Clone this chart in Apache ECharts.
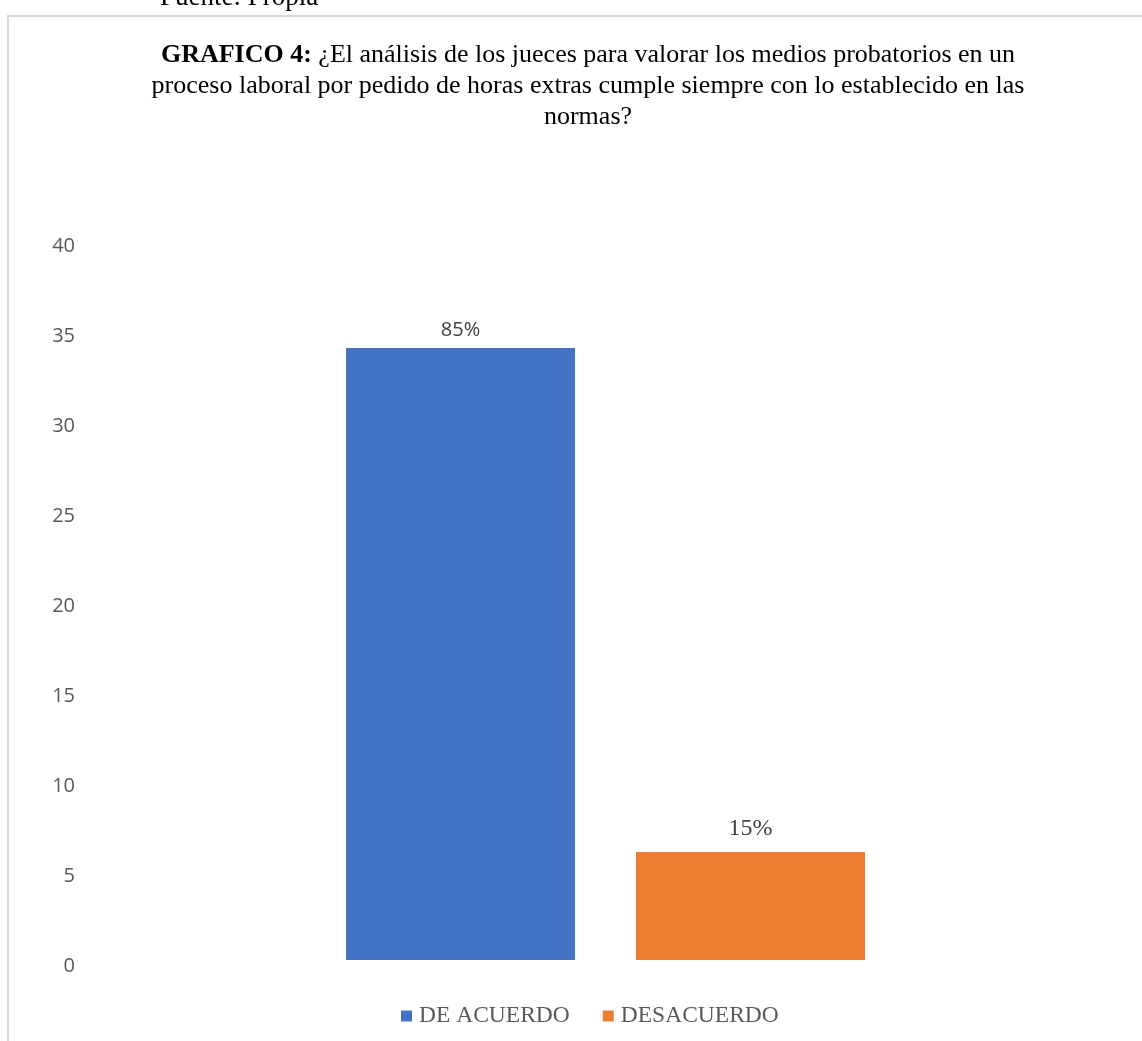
<!DOCTYPE html>
<html>
<head>
<meta charset="utf-8">
<script src="https://cdn.jsdelivr.net/npm/echarts@6/dist/echarts.min.js"></script>
<style>
  html, body { margin: 0; padding: 0; background: #fff; }
  #chart { width: 1142px; height: 1041px; }
</style>
</head>
<body>
<div id="chart"></div>
<script>
// Survey answers (respondents) for GRAFICO 4
const categories = ['Respuesta'];
const seriesNames = ['DE ACUERDO', 'DESACUERDO'];
const acuerdo = [34];
const desacuerdo = [6];
const yTicks = [0, 5, 10, 15, 20, 25, 30, 35, 40];
const total = acuerdo[0] + desacuerdo[0];

const serif = '"Liberation Serif", "Times New Roman", serif';
const sans = '"Open Sans", "Noto Sans", sans-serif';

const pct = p => Math.round(p.value / total * 100) + '%';

const chart = echarts.init(document.getElementById('chart'));
chart.setOption({
  animation: false,
  backgroundColor: '#ffffff',
  graphic: [
    {
      type: 'rect', silent: true,
      shape: { x: 8, y: 16, width: 1200, height: 1100 },
      style: { fill: 'none', stroke: '#d9d9d9', lineWidth: 2 }
    },
    {
      type: 'text', silent: true, x: 160, y: -2,
      style: { text: 'Fuente: Propia', font: '27px ' + serif, fill: '#000', verticalAlign: 'middle' }
    }
  ],
  title: {
    left: 583, top: 35, textAlign: 'center',
    text: '{b|GRAFICO 4:} ¿El análisis de los jueces para valorar los medios probatorios en un\nproceso laboral por pedido de horas extras cumple siempre con lo establecido en las\nnormas?',
    textStyle: {
      fontFamily: serif, fontSize: 26, fontWeight: 'normal', color: '#000', lineHeight: 31,
      rich: {
        b: { fontFamily: serif, fontSize: 26, fontWeight: 'bold', color: '#000', lineHeight: 31 }
      }
    }
  },
  legend: {
    bottom: 8, left: 396, itemWidth: 11, itemHeight: 11, itemGap: 33,
    icon: 'rect',
    data: seriesNames,
    textStyle: { fontFamily: serif, fontSize: 23.5, color: '#595959', padding: [0, 0, 0, 2] }
  },
  grid: { left: 100, right: 31, top: 240, bottom: 81 },
  xAxis: {
    type: 'category', data: categories,
    axisLine: { show: false }, axisTick: { show: false }, axisLabel: { show: false }
  },
  yAxis: {
    type: 'value', min: yTicks[0], max: yTicks[yTicks.length - 1], interval: 5,
    axisLine: { show: false }, axisTick: { show: false },
    splitLine: { show: false },
    axisLabel: {
      margin: 25,
      formatter: '{v|{value}}',
      rich: { v: { fontFamily: sans, fontSize: 20, color: '#595959', padding: [12, 0, 0, 0] } }
    }
  },
  series: [
    {
      name: seriesNames[0], type: 'bar', data: acuerdo, barWidth: 229, barGap: '26.6%',
      itemStyle: { color: '#4472C4' },
      label: { show: true, position: 'top', distance: 8, formatter: pct,
        fontFamily: sans, fontSize: 20, color: '#404040' }
    },
    {
      name: seriesNames[1], type: 'bar', data: desacuerdo, barWidth: 229,
      itemStyle: { color: '#ED7D31' },
      label: { show: true, position: 'top', distance: 11, formatter: pct,
        fontFamily: serif, fontSize: 24, color: '#404040' }
    }
  ]
});
</script>
</body>
</html>
